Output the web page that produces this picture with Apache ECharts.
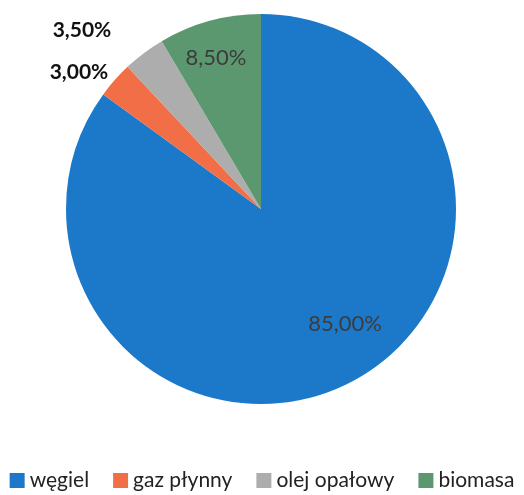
<!DOCTYPE html>
<html>
<head>
<meta charset="utf-8">
<script src="https://cdn.jsdelivr.net/npm/echarts@6/dist/echarts.min.js"></script>
<style>
  html, body { margin: 0; padding: 0; background: #fff; }
  #chart { width: 524px; height: 495px; }
</style>
</head>
<body>
<div id="chart"></div>
<script>
// Fuel shares used for heating (percent)
const categories = ['węgiel', 'gaz płynny', 'olej opałowy', 'biomasa'];
const shares = [85.0, 3.0, 3.5, 8.5];
const sliceColors = ['#1c79c9', '#f26e46', '#adadad', '#5b9870'];

// Where each percentage label sits (pixels) and whether it is drawn bold outside the pie
const labelSpots = [
  { x: 345, y: 324, outside: false },
  { x: 79, y: 72, outside: true },
  { x: 82, y: 30, outside: true },
  { x: 216, y: 58, outside: false }
];

const fmt = v => v.toFixed(2).replace('.', ',') + '%';

const chart = echarts.init(document.getElementById('chart'), null, { renderer: 'canvas' });

chart.setOption({
  animation: false,
  color: sliceColors,
  legend: {
    bottom: -1,
    left: 'center',
    itemWidth: 15,
    itemHeight: 15,
    itemGap: 24,
    icon: 'rect',
    textStyle: { fontFamily: 'Lato', fontSize: 21, color: '#222' },
    data: categories
  },
  series: [{
    type: 'pie',
    center: [261, 209],
    radius: 195,
    startAngle: 90,
    clockwise: true,
    label: {
      show: true,
      position: 'inside',
      fontFamily: 'Lato',
      formatter: p => fmt(p.value)
    },
    labelLine: { show: false },
    labelLayout: p => ({ x: labelSpots[p.dataIndex].x, y: labelSpots[p.dataIndex].y, align: 'center', verticalAlign: 'middle' }),
    data: categories.map((name, i) => ({
      name,
      value: shares[i],
      label: labelSpots[i].outside
        ? { fontSize: 21, fontWeight: 'bold', color: '#111' }
        : { fontSize: 22, fontWeight: 'normal', color: '#3c3c3c' }
    }))
  }]
});
</script>
</body>
</html>
